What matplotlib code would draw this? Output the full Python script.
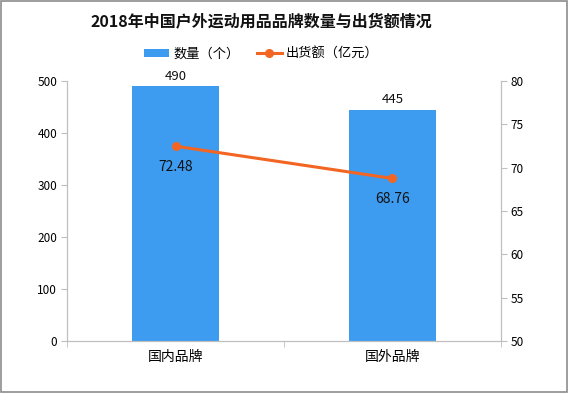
import matplotlib
matplotlib.use("Agg")
import matplotlib.pyplot as plt
from matplotlib.patches import Rectangle

plt.rcParams['font.family'] = ['Noto Sans CJK SC', 'DejaVu Sans']

categories = ["国内品牌", "国外品牌"]
counts = [490, 445]
shipments = [72.48, 68.76]

bar_color = '#3d9cf0'
line_color = '#f26522'
axis_color = '#bfbfbf'

fig = plt.figure(figsize=(5.68, 3.93), dpi=100)
ax = fig.add_axes([0.118, 0.132, 0.764, 0.662])
ax2 = ax.twinx()

x = list(range(len(categories)))
bars = ax.bar(x, counts, width=0.405, color=bar_color, label="数量（个）", zorder=2)
for xi, v in zip(x, counts):
    ax.text(xi, v + 6, str(v), ha='center', va='bottom', fontsize=9.5, color='#111111')

ln, = ax2.plot(x, shipments, color=line_color, linewidth=2.2, marker='o', markersize=5.5,
               label="出货额（亿元）", zorder=3)
for xi, v in zip(x, shipments):
    ax2.text(xi, v - 1.6, f"{v:.2f}", ha='center', va='top', fontsize=10, color='#111111')

ax.set_xlim(-0.5, 1.5)
ax.set_ylim(0, 500)
ax.set_yticks(range(0, 501, 100))
ax2.set_ylim(50, 80)
ax2.set_yticks(range(50, 81, 5))

ax.set_xticks(x)
ax.set_xticklabels(categories, fontsize=10)
ax.set_xticks([-0.5, 0.5, 1.5], minor=True)
ax.tick_params(axis='x', which='major', length=0, pad=6)
ax.tick_params(axis='x', which='minor', length=4, color=axis_color)
ax.tick_params(axis='y', length=4, color=axis_color, labelsize=8.5, pad=3)
ax2.tick_params(axis='y', length=4, color=axis_color, labelsize=8.5, pad=3)

for a in (ax, ax2):
    a.spines['top'].set_visible(False)
    for s in ('left', 'right', 'bottom'):
        a.spines[s].set_color(axis_color)

ax.set_zorder(ax2.get_zorder() - 1)
ax.patch.set_visible(True)
ax2.patch.set_visible(False)

fig.text(0.461, 0.945, "2018年中国户外运动用品品牌数量与出货额情况", ha='center', va='center',
         fontsize=11.5, fontweight='bold', color='#111111')

fig.legend([bars, ln], ["数量（个）", "出货额（亿元）"], loc='center', bbox_to_anchor=(0.46, 0.862),
           ncol=2, frameon=False, fontsize=9.5, handlelength=1.9, handleheight=0.6,
           columnspacing=1.3, handletextpad=0.3)

fig.patches.append(Rectangle((0.001, 0.002), 0.997, 0.996, transform=fig.transFigure,
                             fill=False, edgecolor='#8c8c8c', linewidth=1.2))

fig.savefig('out.png', dpi=100)
